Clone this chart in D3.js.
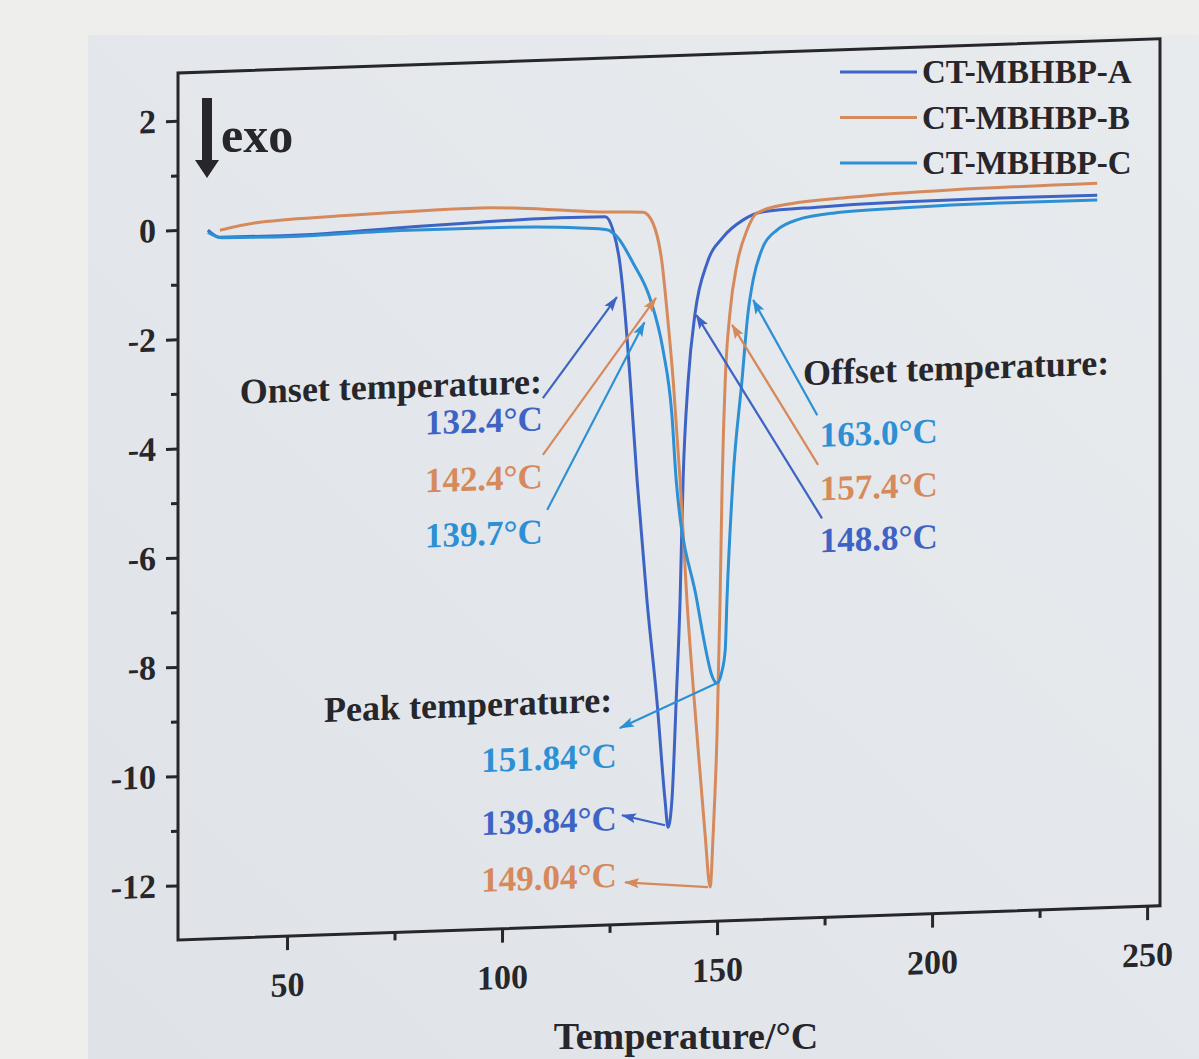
<!DOCTYPE html>
<html>
<head>
<meta charset="utf-8">
<script src="https://cdn.jsdelivr.net/npm/d3@7"></script>
<style>
  html, body { margin: 0; padding: 0; background: #eeeeec; }
  svg { display: block; }
</style>
</head>
<body>
<div id="chart"></div>
<script>
// DSC curves: [temperature °C, heat flow]
const seriesA = [
  [31.6, -0.02], [34.4, -0.16], [53.0, -0.17], [76.3, -0.10], [94.9, -0.05], [113.5, -0.02],
  [124.0, -0.03], [125.8, -0.28], [127.4, -0.89], [128.6, -1.81], [129.8, -3.04], [131.4, -4.87],
  [133.7, -7.08], [136.0, -8.91], [137.9, -10.75], [138.6, -11.25], [139.5, -10.76], [140.5, -8.93],
  [141.4, -7.10], [142.1, -4.90], [143.3, -3.07], [144.9, -1.85], [147.7, -0.94], [151.4, -0.48],
  [156.0, -0.18], [160.7, -0.04], [173.3, 0.01], [192.6, 0.05], [215.8, 0.06], [238.4, 0.05]
];
const seriesB = [
  [34.4, -0.03], [43.7, 0.09], [64.6, 0.16], [94.9, 0.21], [104.2, 0.18], [122.8, 0.06],
  [132.8, 0.03], [135.1, -0.18], [137.2, -0.91], [138.4, -1.83], [139.8, -3.07], [141.4, -4.90],
  [143.0, -7.11], [145.3, -9.54], [147.2, -11.39], [148.4, -12.37], [149.1, -11.39], [150.0, -9.57],
  [150.7, -7.12], [151.2, -4.93], [151.9, -3.10], [153.0, -1.87], [154.7, -0.96], [157.0, -0.36],
  [159.3, -0.06], [165.3, 0.07], [180.9, 0.17], [204.2, 0.24], [238.4, 0.27]
];
const seriesC = [
  [31.6, -0.06], [34.8, -0.17], [53.0, -0.19], [76.3, -0.15], [99.5, -0.16], [118.1, -0.22],
  [124.4, -0.27], [126.7, -0.40], [130.5, -0.90], [134.4, -1.55], [137.4, -2.49], [139.5, -3.70],
  [140.5, -4.90], [145.3, -7.11], [147.4, -8.03], [148.6, -8.45], [150.0, -8.64], [151.0, -8.47],
  [151.9, -8.04], [152.3, -7.13], [153.7, -4.93], [155.8, -3.11], [157.2, -1.88], [158.4, -1.28],
  [160.7, -0.68], [164.0, -0.38], [168.6, -0.21], [177.0, -0.11], [192.6, -0.06], [215.8, -0.03],
  [238.4, -0.04]
];

const seriesNames = ["CT-MBHBP-A", "CT-MBHBP-B", "CT-MBHBP-C"];
const seriesColors = ["#3d63c4", "#d68a5c", "#2d90d4"];

const xMajorTicks = [50, 100, 150, 200, 250];
const xMinorTicks = [75, 125, 175, 225];
const yMajorTicks = [2, 0, -2, -4, -6, -8, -10, -12];
const yMinorTicks = [1, -1, -3, -5, -7, -9, -11];

// annotations: arrow from [T, V] to [T, V], series index
const onsetArrows = [
  { s: 0, from: [109.5, -3.31], to: [126.7, -1.51] },
  { s: 1, from: [109.5, -4.35], to: [135.8, -1.55] },
  { s: 2, from: [110.5, -5.36], to: [133.1, -1.99] }
];
const offsetArrows = [
  { s: 2, from: [173.3, -3.80], to: [158.4, -1.65] },
  { s: 1, from: [173.5, -4.71], to: [153.5, -2.09] },
  { s: 0, from: [174.4, -5.69], to: [145.2, -1.89] }
];
const peakArrows = [
  { s: 2, from: [150.0, -8.64], to: [127.4, -9.40] },
  { s: 0, from: [137.9, -11.21], to: [127.9, -11.00] },
  { s: 1, from: [147.9, -12.37], to: [128.6, -12.23] }
];

const onsetLabels = [
  { s: 0, text: "132.4°C", at: [109.5, -3.90] },
  { s: 1, text: "142.4°C", at: [109.5, -4.96] },
  { s: 2, text: "139.7°C", at: [109.5, -5.97] }
];
const offsetLabels = [
  { s: 2, text: "163.0°C", at: [173.9, -4.38] },
  { s: 1, text: "157.4°C", at: [173.9, -5.36] },
  { s: 0, text: "148.8°C", at: [173.9, -6.31] }
];
const peakLabels = [
  { s: 2, text: "151.84°C", at: [126.7, -10.12] },
  { s: 0, text: "139.84°C", at: [126.7, -11.27] },
  { s: 1, text: "149.04°C", at: [126.7, -12.31] }
];

const W = 1199, H = 1059;
const FONT = "'Liberation Serif', 'Times New Roman', serif";
const INK = "#26262b";

const svg = d3.select("#chart").append("svg")
  .attr("width", W).attr("height", H)
  .style("font-family", FONT);

// paper
const defs = svg.append("defs");
const grad = defs.append("linearGradient").attr("id", "paper")
  .attr("x1", "0").attr("y1", "1").attr("x2", "1").attr("y2", "0");
grad.append("stop").attr("offset", "0").attr("stop-color", "#dfe3e8");
grad.append("stop").attr("offset", "1").attr("stop-color", "#e8ebee");
svg.append("rect").attr("width", W).attr("height", H).attr("fill", "#eeeeec");
svg.append("rect").attr("x", 88).attr("y", 35).attr("width", W - 88).attr("height", H - 35)
  .attr("fill", "url(#paper)");

// arrow markers
seriesColors.forEach((c, i) => {
  defs.append("marker")
    .attr("id", "arr" + i)
    .attr("markerUnits", "userSpaceOnUse")
    .attr("viewBox", "0 -6 16 12")
    .attr("refX", 14).attr("refY", 0)
    .attr("markerWidth", 16).attr("markerHeight", 12)
    .attr("orient", "auto")
    .append("path")
    .attr("d", "M0,-5L15,0L0,5L3,0Z")
    .attr("fill", c);
});

// scales
const x = d3.scaleLinear().domain([24.65, 253]).range([178, 1160]);
const y = d3.scaleLinear().domain([-13, 2.875]).range([940, 73]);

// the printed page is photographed slightly tilted
const plot = svg.append("g")
  .attr("transform", "translate(178,0) skewY(-2) translate(-178,0)");

// curves
const line = d3.line()
  .x(d => x(d[0]))
  .y(d => y(d[1]))
  .curve(d3.curveMonotoneX);

[seriesA, seriesB, seriesC].forEach((s, i) => {
  plot.append("path")
    .datum(s)
    .attr("d", line)
    .attr("fill", "none")
    .attr("stroke", seriesColors[i])
    .attr("stroke-width", 3)
    .attr("stroke-linejoin", "round");
});

// arrows
[...onsetArrows, ...offsetArrows, ...peakArrows].forEach(a => {
  plot.append("line")
    .attr("x1", x(a.from[0])).attr("y1", y(a.from[1]))
    .attr("x2", x(a.to[0])).attr("y2", y(a.to[1]))
    .attr("stroke", seriesColors[a.s])
    .attr("stroke-width", 2.2)
    .attr("marker-end", `url(#arr${a.s})`);
});

// annotation texts
function valueLabels(list, anchor) {
  plot.selectAll(null)
    .data(list)
    .enter()
    .append("text")
    .attr("x", d => x(d.at[0]))
    .attr("y", d => y(d.at[1]))
    .attr("text-anchor", anchor)
    .attr("font-size", 35)
    .attr("font-weight", "bold")
    .attr("fill", d => seriesColors[d.s])
    .text(d => d.text);
}
valueLabels(onsetLabels, "end");
valueLabels(offsetLabels, "start");
valueLabels(peakLabels, "end");

const headers = [
  { text: "Onset temperature:", at: [109.3, -3.22], anchor: "end" },
  { text: "Offset temperature:", at: [170.0, -3.24], anchor: "start" },
  { text: "Peak temperature:", at: [125.6, -9.10], anchor: "end" }
];
plot.selectAll(null)
  .data(headers)
  .enter()
  .append("text")
  .attr("x", d => x(d.at[0]))
  .attr("y", d => y(d.at[1]))
  .attr("text-anchor", d => d.anchor)
  .attr("font-size", 36)
  .attr("font-weight", "bold")
  .attr("fill", INK)
  .text(d => d.text);

// frame
plot.append("rect")
  .attr("x", 178).attr("y", 73)
  .attr("width", 1160 - 178).attr("height", 940 - 73)
  .attr("fill", "none")
  .attr("stroke", INK)
  .attr("stroke-width", 3);

// axes
plot.append("g").attr("transform", "translate(178,0)")
  .call(d3.axisLeft(y).tickValues(yMajorTicks).tickSize(12).tickPadding(10).tickFormat(d => String(d)));
plot.append("g").attr("transform", "translate(178,0)")
  .call(d3.axisLeft(y).tickValues(yMinorTicks).tickSize(7).tickFormat(""));

plot.append("g").attr("transform", "translate(0,940)")
  .call(d3.axisBottom(x).tickValues(xMajorTicks).tickSize(14).tickPadding(22).tickFormat(d => String(d)));
plot.append("g").attr("transform", "translate(0,940)")
  .call(d3.axisBottom(x).tickValues(xMinorTicks).tickSize(8).tickFormat(""));

plot.selectAll(".domain").remove();
plot.selectAll(".tick line").attr("stroke", INK).attr("stroke-width", 3);
plot.selectAll(".tick text")
  .attr("fill", INK)
  .attr("font-family", FONT)
  .attr("font-weight", "bold")
  .attr("font-size", 34);

// axis title (bottom of the photo cuts close under it)
svg.append("text")
  .attr("x", 686)
  .attr("y", 1049)
  .attr("text-anchor", "middle")
  .attr("font-size", 38)
  .attr("font-weight", "bold")
  .attr("fill", INK)
  .text("Temperature/°C");

// exo marker
const exo = svg.append("g");
exo.append("rect").attr("x", 202).attr("y", 98).attr("width", 10).attr("height", 66).attr("fill", INK);
exo.append("path").attr("d", "M195,160 L219,160 L207,178 Z").attr("fill", INK);
exo.append("text")
  .attr("x", 221).attr("y", 152)
  .attr("font-size", 50)
  .attr("font-weight", "bold")
  .attr("fill", INK)
  .text("exo");

// legend
const legend = svg.append("g");
const rows = legend.selectAll("g")
  .data(seriesNames)
  .enter()
  .append("g")
  .attr("transform", (d, i) => `translate(840, ${72 + i * 45.5})`);
rows.append("line")
  .attr("x1", 0).attr("x2", 77)
  .attr("stroke", (d, i) => seriesColors[i])
  .attr("stroke-width", 3);
rows.append("text")
  .attr("x", 82).attr("y", 11)
  .attr("font-size", 33)
  .attr("font-weight", "bold")
  .attr("fill", INK)
  .text(d => d);
</script>
</body>
</html>
